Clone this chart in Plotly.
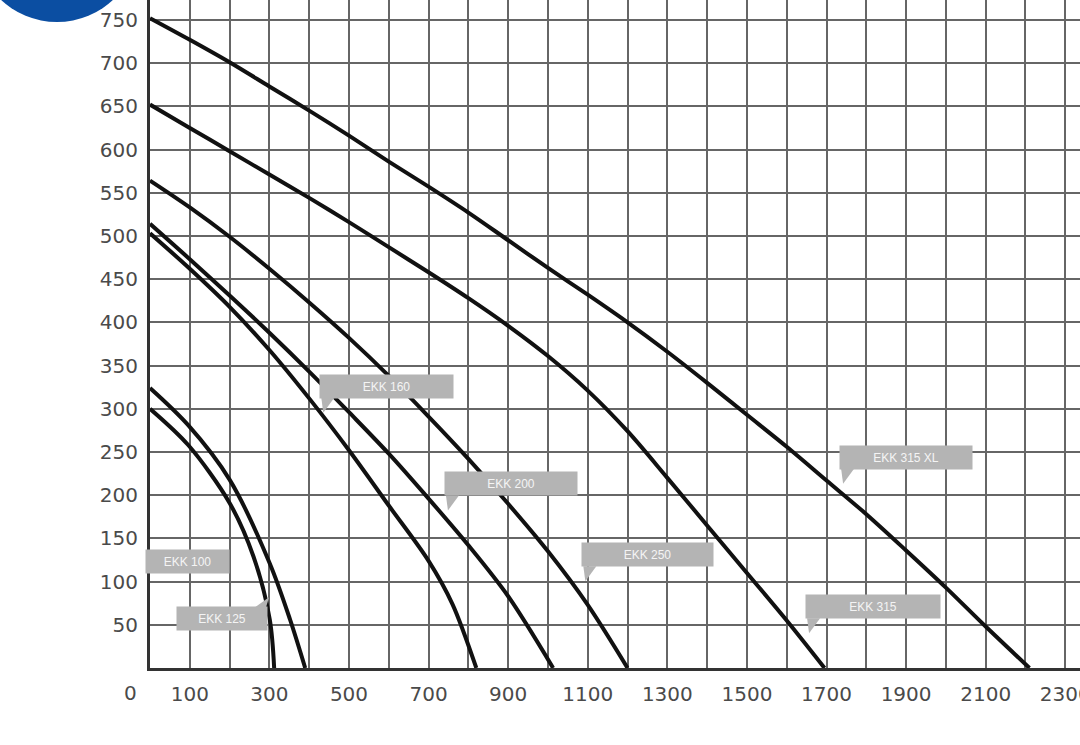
import plotly.graph_objects as go

# Airflow (x) and pressure (y)
a_x = [0, 100, 200, 300, 400, 500, 600, 700, 800, 900, 1000, 1100, 1200, 1300, 1400, 1500, 1600, 1700, 1800, 1900, 2000, 2100, 2210]
a_y = [752, 727, 701, 673, 645, 616, 586, 557, 527, 495, 463, 432, 400, 366, 330, 293, 256, 217, 178, 136, 93, 48, 0]

b_x = [0, 100, 200, 300, 400, 500, 600, 700, 800, 900, 1000, 1100, 1200, 1300, 1400, 1500, 1600, 1695]
b_y = [652, 625, 598, 571, 544, 516, 487, 458, 428, 396, 361, 321, 274, 220, 165, 110, 55, 0]

c_x = [0, 100, 200, 300, 400, 500, 600, 700, 800, 900, 1000, 1100, 1200]
c_y = [564, 533, 499, 462, 423, 382, 338, 291, 242, 190, 135, 73, 0]

d_x = [0, 100, 200, 300, 400, 500, 600, 700, 800, 900, 1013]
d_y = [514, 473, 431, 388, 343, 296, 248, 196, 142, 83, 0]

e_x = [0, 100, 200, 300, 400, 500, 600, 700, 760, 820]
e_y = [503, 462, 418, 368, 312, 252, 188, 124, 74, 0]

f_x = [0, 96, 200, 301, 352, 390]
f_y = [324, 281, 218, 121, 56, 0]

g_x = [0, 96, 200, 260, 301, 312]
g_y = [300, 258, 191, 129, 56, 0]

curves = [(a_x, a_y), (b_x, b_y), (c_x, c_y), (d_x, d_y), (e_x, e_y), (f_x, f_y), (g_x, g_y)]

# Model labels (grey tags)
label_text = ["EKK 100", "EKK 125", "EKK 160", "EKK 200", "EKK 250", "EKK 315", "EKK 315 XL"]
label_x = [93, 181, 595, 907, 1251, 1817, 1900]
label_y = [123, 57, 326, 213, 131, 71, 244]

x_ticks = [100, 300, 500, 700, 900, 1100, 1300, 1500, 1700, 1900, 2100, 2300]
y_ticks = [50, 100, 150, 200, 250, 300, 350, 400, 450, 500, 550, 600, 650, 700, 750]

# styling helpers (not data)
label_w = [83, 90, 133, 132, 131, 134, 132]
tail_side = ["none", "right", "left", "left", "left", "left", "left"]
PX_X = 0.398   # px per x unit
PX_Y = 0.864   # px per y unit
BOX_H = 23

fig = go.Figure()
for cx, cy in curves:
    fig.add_trace(go.Scatter(x=cx, y=cy, mode="lines",
                             line=dict(color="#111111", width=4, shape="spline", smoothing=0.9),
                             showlegend=False, hoverinfo="skip"))

grid_col = "#666666"
tick_font = dict(family="DejaVu Sans, sans-serif", size=20, color="#4a4a4a")
fig.update_layout(
    width=1080, height=745,
    margin=dict(l=150, r=0, t=0, b=77),
    paper_bgcolor="white", plot_bgcolor="white",
    font=dict(family="DejaVu Sans, sans-serif", color="#4a4a4a", size=20),
    xaxis=dict(range=[0, 2337], tickmode="array", tickvals=x_ticks, ticktext=[str(v) for v in x_ticks],
               showgrid=True, gridcolor=grid_col, gridwidth=2,
               minor=dict(tickmode="linear", tick0=0, dtick=100, showgrid=True, gridcolor=grid_col, gridwidth=2),
               showline=True, linecolor="#333333", linewidth=3, zeroline=False, ticks="",
               ticklabeloverflow="allow",
               ticklabelstandoff=6, tickfont=tick_font, automargin=False),
    yaxis=dict(range=[0, 773], tickmode="array", tickvals=y_ticks, ticktext=[str(v) for v in y_ticks],
               showgrid=True, gridcolor=grid_col, gridwidth=2,
               showline=True, linecolor="#333333", linewidth=3, zeroline=False, ticks="",
               ticklabelstandoff=5, tickfont=tick_font, automargin=False),
)

for t, lx, ly, w, side in zip(label_text, label_x, label_y, label_w, tail_side):
    # tail (speech-bubble pointer) derived from the label position
    left = lx - (w / 2) / PX_X
    right = lx + (w / 2) / PX_X
    bottom = ly - (BOX_H / 2) / PX_Y
    top = ly + (BOX_H / 2) / PX_Y
    if side == "left":
        p = [(left + 1 / PX_X, bottom), (left + 14 / PX_X, bottom), (left + 3 / PX_X, bottom - 15 / PX_Y)]
    elif side == "right":
        p = [(right - 12 / PX_X, top), (right - 1 / PX_X, top), (right + 2 / PX_X, top + 10 / PX_Y)]
    else:
        p = None
    if p:
        path = "M {} {} L {} {} L {} {} Z".format(p[0][0], p[0][1], p[1][0], p[1][1], p[2][0], p[2][1])
        fig.add_shape(type="path", path=path, xref="x", yref="y", fillcolor="#b4b4b4",
                      line=dict(width=0), layer="above")
    fig.add_annotation(x=lx, y=ly, text=t, showarrow=False, bgcolor="#b4b4b4",
                       font=dict(family="Liberation Sans, Arial, sans-serif", size=12, color="#f4f4f4"),
                       borderpad=0, width=w, height=BOX_H)

# corner "0" label
fig.add_annotation(x=-20 / 930, y=-25 / 668, xref="paper", yref="paper", text="0", showarrow=False,
                   xanchor="center", yanchor="middle", font=tick_font)

# blue circle corner decoration
fig.add_shape(type="circle", xref="paper", yref="paper",
              x0=(-25 - 150) / 930, x1=(139 - 150) / 930,
              y0=(668 - 22) / 668, y1=(668 + 142) / 668,
              fillcolor="#0b4ea2", line=dict(width=0), layer="above")

fig.write_html("out.html", config={"displayModeBar": False},
               post_script="document.body.style.margin='0';document.body.style.overflow='hidden';")
